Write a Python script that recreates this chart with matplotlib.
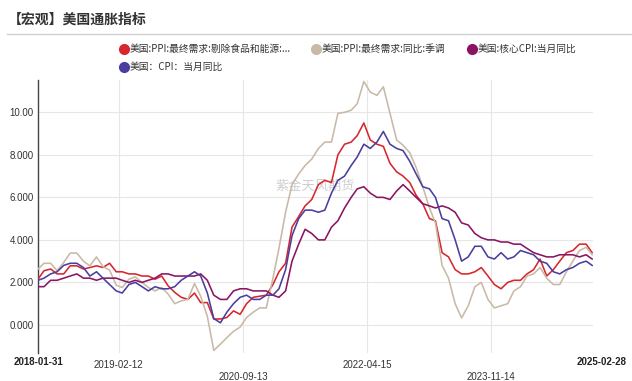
import matplotlib
matplotlib.use("Agg")
import matplotlib.pyplot as plt
import pandas as pd

plt.rcParams["font.family"] = ["Noto Sans CJK SC", "DejaVu Sans"]

INK = "#333333"
GRID = "#e6e6e6"

dates = pd.date_range("2018-01-31", periods=86, freq="ME")

# 美国:PPI:最终需求:剔除食品和能源:同比
ppi_core = [
    2.15, 2.55, 2.63, 2.4, 2.4, 2.78, 2.78, 2.63, 2.7, 2.78, 2.7, 2.9,
    2.5, 2.5, 2.4, 2.4, 2.3, 2.3, 2.15, 2.3, 1.84, 1.53, 1.3, 1.2,
    1.5, 1.05, 1.05, 0.28, 0.28, 0.35, 0.66, 0.5, 1.0, 1.3, 1.35, 1.4,
    1.9, 2.5, 2.9, 4.6, 5.1, 5.6, 5.9, 6.6, 6.8, 6.7, 8.0, 8.5,
    8.6, 8.9, 9.5, 8.7, 8.5, 8.4, 7.6, 7.2, 7.0, 6.7, 6.1, 5.7,
    5.0, 4.9, 3.4, 3.2, 2.6, 2.4, 2.4, 2.5, 2.7, 2.3, 1.9, 1.7,
    2.0, 2.1, 2.1, 2.4, 2.6, 3.1, 2.3, 2.6, 3.0, 3.4, 3.5, 3.8,
    3.8, 3.4,
]
# 美国:PPI:最终需求:同比:季调
ppi_sa = [
    2.63, 2.9, 2.9, 2.55, 2.94, 3.38, 3.38, 3.0, 2.78, 3.2, 2.74, 2.58,
    1.87, 1.76, 2.15, 2.26, 2.0, 1.76, 1.6, 1.76, 1.45, 1.0, 1.13, 1.2,
    1.95, 1.35, 0.4, -1.2, -0.9, -0.6, -0.3, -0.1, 0.35, 0.6, 0.8, 0.8,
    2.2, 3.6, 5.3, 6.6, 7.1, 7.5, 7.8, 8.3, 8.6, 8.6, 9.95, 10.0,
    10.1, 10.4, 11.45, 10.95, 10.8, 11.2, 9.95, 8.7, 8.45, 8.1, 7.4, 6.5,
    5.5, 4.8, 2.8, 2.2, 1.0, 0.33, 0.9, 1.8, 2.0, 1.2, 0.8, 0.9,
    1.0, 1.6, 1.8, 2.3, 2.4, 2.7, 2.2, 1.9, 1.9, 2.5, 3.0, 3.5,
    3.65, 3.3,
]
# 美国:核心CPI:当月同比
core_cpi = [
    1.8, 1.8, 2.1, 2.1, 2.2, 2.3, 2.4, 2.2, 2.2, 2.1, 2.2, 2.2,
    2.2, 2.1, 2.0, 2.1, 2.0, 2.1, 2.2, 2.4, 2.4, 2.3, 2.3, 2.3,
    2.3, 2.4, 2.1, 1.4, 1.2, 1.2, 1.6, 1.7, 1.7, 1.6, 1.6, 1.6,
    1.4, 1.3, 1.6, 3.0, 3.8, 4.5, 4.3, 4.0, 4.0, 4.6, 4.9, 5.5,
    6.0, 6.4, 6.5, 6.2, 6.0, 6.0, 5.9, 6.3, 6.6, 6.3, 6.0, 5.7,
    5.6, 5.5, 5.6, 5.5, 5.3, 4.8, 4.7, 4.3, 4.1, 4.0, 4.0, 3.9,
    3.9, 3.8, 3.8, 3.6, 3.4, 3.3, 3.2, 3.2, 3.3, 3.3, 3.3, 3.2,
    3.3, 3.1,
]
# 美国:CPI:当月同比
cpi = [
    2.1, 2.2, 2.4, 2.5, 2.8, 2.9, 2.9, 2.7, 2.3, 2.5, 2.2, 1.9,
    1.6, 1.5, 1.9, 2.0, 1.8, 1.6, 1.8, 1.7, 1.7, 1.8, 2.1, 2.3,
    2.5, 2.3, 1.5, 0.3, 0.1, 0.6, 1.0, 1.3, 1.4, 1.2, 1.2, 1.4,
    1.4, 1.7, 2.6, 4.2, 5.0, 5.4, 5.4, 5.3, 5.4, 6.2, 6.8, 7.0,
    7.5, 7.9, 8.5, 8.3, 8.6, 9.1, 8.5, 8.3, 8.2, 7.7, 7.1, 6.5,
    6.4, 6.0, 5.0, 4.9, 4.0, 3.0, 3.2, 3.7, 3.7, 3.2, 3.1, 3.4,
    3.1, 3.2, 3.5, 3.4, 3.3, 3.0, 2.9, 2.5, 2.4, 2.6, 2.7, 2.9,
    3.0, 2.8,
]

series = [
    ("美国:PPI:最终需求:剔除食品和能源:...", ppi_core, "#d7262e"),
    ("美国:PPI:最终需求:同比:季调", ppi_sa, "#c9b9a7"),
    ("美国:核心CPI:当月同比", core_cpi, "#8a1462"),
    ("美国：CPI：当月同比", cpi, "#4a3e9e"),
]

y_ticks = [0, 2, 4, 6, 8, 10]
y_labels = ["0.000", "2.000", "4.000", "6.000", "8.000", "10.00"]
x_ticks = ["2019-02-12", "2020-09-13", "2022-04-15", "2023-11-14"]
x_ends = ["2018-01-31", "2025-02-28"]

W, H = 632, 381
fig = plt.figure(figsize=(W / 100, H / 100), dpi=100)
fig.patch.set_facecolor("white")

ax = fig.add_axes([38 / W, 1 - 353 / H, (593 - 38) / W, (353 - 80) / H])
ax.patch.set_alpha(0)

# watermark behind lines
ax.text(0.50, 0.61, "紫金天风期货", transform=ax.transAxes, fontsize=9.5,
        color="#cfcfcf", ha="center", va="center", zorder=1)

for label, vals, color in series:
    ax.plot(dates, vals, color=color, lw=1.15, zorder=3)

ax.set_ylim(-1.32, 11.52)
ax.set_xlim(pd.Timestamp(x_ends[0]), pd.Timestamp(x_ends[1]) + pd.Timedelta(days=4))

ax.set_yticks(y_ticks)
ax.set_yticklabels(y_labels)
ax.set_xticks([pd.Timestamp(d) for d in x_ticks])
ax.set_xticklabels([d if i % 2 == 0 else "\n" + d for i, d in enumerate(x_ticks)],
                   linespacing=1.25)
ax.tick_params(axis="both", length=0, labelsize=7, colors=INK)
ax.tick_params(axis="y", pad=3)
ax.tick_params(axis="x", pad=5)
for lab in ax.get_yticklabels() + ax.get_xticklabels():
    lab.set_family(["Liberation Sans", "DejaVu Sans"])

ax.grid(True, color=GRID, lw=0.8)
ax.set_axisbelow(True)
for side in ["top", "right", "bottom"]:
    ax.spines[side].set_visible(False)
ax.spines["left"].set_color("#444444")
ax.spines["left"].set_linewidth(1.0)

# bold end labels on the date axis
row1 = -(362 - 353) / (353 - 80)
ax.text(pd.Timestamp(x_ends[0]), row1, x_ends[0], transform=ax.get_xaxis_transform(),
        ha="center", va="center", fontsize=7, fontweight="bold", color="#222222",
        family=["Liberation Sans", "DejaVu Sans"])
ax.text(1.06, row1, x_ends[1], transform=ax.transAxes,
        ha="right", va="center", fontsize=7, fontweight="bold", color="#222222",
        family=["Liberation Sans", "DejaVu Sans"])

# title and divider
fig.text(8 / W, 1 - 20 / H, "【宏观】美国通胀指标", fontsize=10, fontweight="bold",
         color="#333333", ha="left", va="center")
fig.add_artist(plt.Line2D([7 / W, 1], [1 - 34 / H, 1 - 34 / H], color="#d0d0d0", lw=1.0))

# legend
legend_pos = [(124, 49), (316, 49), (472, 49), (124, 67)]
for (label, vals, color), (px, py) in zip(series, legend_pos):
    fig.add_artist(plt.Line2D([px / W], [1 - py / H], marker="o", markersize=7,
                              color=color, lw=0))
    fig.text((px + 6) / W, 1 - py / H, label, fontsize=7, color="#333333",
             ha="left", va="center")

fig.savefig("out.png", dpi=100)
